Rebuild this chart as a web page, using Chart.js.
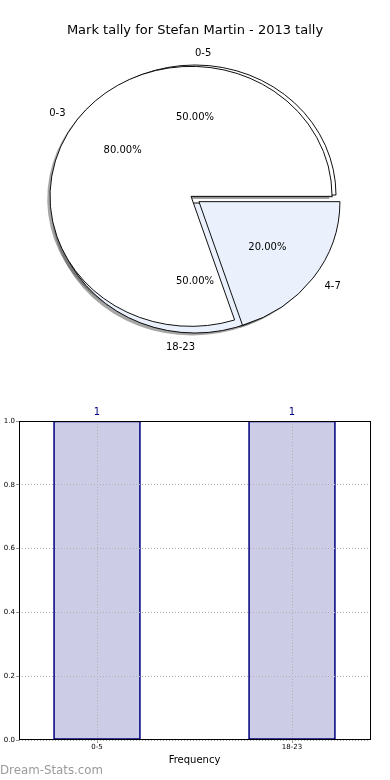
<!DOCTYPE html>
<html>
<head>
<meta charset="utf-8">
<script src="https://cdn.jsdelivr.net/npm/chart.js@4.4.0/dist/chart.umd.min.js"></script>
<style>
  body { margin: 0; background: #fff; font-family: "DejaVu Sans", sans-serif; }
  #wrap { position: relative; width: 390px; height: 780px; overflow: hidden; }
  canvas { position: absolute; left: 0; }
  #title { position: absolute; top: 21px; left: 0; width: 390px; text-align: center; font-size: 13px; line-height: 18px; color: #000; }
  #mark { position: absolute; left: 0; top: 763px; font-size: 11.8px; line-height: 14px; color: #9b9b9b; }
</style>
</head>
<body>
<div id="wrap">
  <canvas id="pies" width="390" height="398" style="top:0"></canvas>
  <canvas id="bars" width="390" height="380" style="top:400px"></canvas>
  <div id="title">Mark tally for Stefan Martin - 2013 tally</div>
  <div id="mark">Dream-Stats.com</div>
</div>
<script>
// front pie
const BINS_FRONT = ["0-3", "4-7"];
const COUNTS_FRONT = [4, 1];
// back pie
const BINS_BACK = ["0-5", "18-23"];
const COUNTS_BACK = [1, 1];
// bar chart
const BAR_CATS = ["0-5", "18-23"];
const BAR_VALS = [1, 1];
const Y_TICKS = [0, 0.2, 0.4, 0.6, 0.8, 1.0];

const WEDGE = "#ffffff";
const WEDGE_ALT = "#eaf0fc";
const SX = 141 / 130;          // pie is drawn a bit wider than tall
const EXPLODE = [4.5, 4];      // px, per dataset (front, back)

function midOf(arc) { return (arc.startAngle + arc.endAngle) / 2; }

// both pies share one chart, drawn as full overlapping pies
const mplPie = {
  id: "mplPie",
  beforeDatasetsDraw(chart) {
    const ctx = chart.ctx;
    const R = chart.getDatasetMeta(0).controller.outerRadius;
    const metas = [chart.getDatasetMeta(0), chart.getDatasetMeta(1)];
    metas.forEach(m => m.data.forEach(arc => { arc.innerRadius = 0; arc.outerRadius = R; }));
    const cx = metas[0].data[0].x, cy = metas[0].data[0].y;

    ctx.save();
    ctx.translate(cx, cy); ctx.scale(SX, 1); ctx.translate(-cx, -cy);

    // shadows first, under every wedge
    ctx.fillStyle = "rgba(77,77,77,0.5)";
    metas.forEach((m, d) => m.data.forEach(arc => {
      const a = midOf(arc);
      const x = arc.x + Math.cos(a) * EXPLODE[d] - 2.8 / SX;
      const y = arc.y + Math.sin(a) * EXPLODE[d] + 2.6;
      ctx.beginPath();
      ctx.moveTo(x, y);
      ctx.arc(x, y, arc.outerRadius, arc.startAngle, arc.endAngle);
      ctx.closePath();
      ctx.fill();
    }));

    // back pie, then front pie
    [metas[1], metas[0]].forEach(m => {
      const d = m.index;
      m.data.forEach(arc => {
        const a = midOf(arc);
        ctx.save();
        ctx.translate(Math.cos(a) * EXPLODE[d], Math.sin(a) * EXPLODE[d]);
        arc.draw(ctx);
        ctx.restore();
      });
    });
    ctx.restore();

    // labels on top of everything
    ctx.save();
    ctx.font = '10px "DejaVu Sans"';
    ctx.fillStyle = "#000";
    ctx.textBaseline = "middle";
    metas.forEach(m => {
      const ds = chart.data.datasets[m.index];
      const total = ds.data.reduce((s, v) => s + v, 0);
      m.data.forEach((arc, i) => {
        const a = midOf(arc);
        const c = Math.cos(a), s = Math.sin(a);
        const e = EXPLODE[m.index];
        const at = f => [arc.x + (c * e + c * arc.outerRadius * f) * SX, arc.y + s * e + s * arc.outerRadius * f];
        let [x, y] = at(1.1);
        ctx.textAlign = Math.abs(c) < 1e-6 ? (s < 0 ? "left" : "right") : (c > 0 ? "left" : "right");
        ctx.fillText(ds.names[i], x, y + 1);
        [x, y] = at(0.6);
        ctx.textAlign = "center";
        ctx.fillText((ds.data[i] / total * 100).toFixed(2) + "%", x, y);
      });
    });
    ctx.restore();
    return false;
  }
};

// drawn clockwise from east, so reverse the matplotlib order
new Chart(document.getElementById("pies"), {
  type: "pie",
  data: {
    datasets: [
      {
        names: [...BINS_FRONT].reverse(),
        data: [...COUNTS_FRONT].reverse(),
        backgroundColor: [WEDGE_ALT, WEDGE],
        borderColor: "#000",
        borderWidth: 0.9
      },
      {
        names: [...BINS_BACK].reverse(),
        data: [...COUNTS_BACK].reverse(),
        backgroundColor: [WEDGE_ALT, WEDGE],
        borderColor: "#000",
        borderWidth: 0.9
      }
    ]
  },
  options: {
    responsive: false,
    animation: false,
    events: [],
    rotation: 90,
    radius: 130,
    layout: { padding: 0 },
    plugins: { legend: { display: false }, tooltip: { enabled: false } }
  },
  plugins: [mplPie]
});

const barExtras = {
  id: "barExtras",
  afterDraw(chart) {
    const { ctx, chartArea: a } = chart;
    ctx.save();
    ctx.strokeStyle = "#000";
    ctx.lineWidth = 1;
    ctx.strokeRect(a.left + 0.5, a.top + 0.5, a.right - a.left, a.bottom - a.top - 1);
    ctx.font = '10px "DejaVu Sans"';
    ctx.fillStyle = "#000080";
    ctx.textAlign = "center";
    ctx.textBaseline = "middle";
    chart.getDatasetMeta(0).data.forEach((bar, i) => {
      ctx.fillText(String(BAR_VALS[i]), bar.x, bar.y - 9);
    });
    ctx.restore();
  }
};

const gridStyle = { color: "#b0b0b0", z: 1, offset: false, tickLength: 3, tickColor: "#999", tickBorderDash: [], borderDash: [1, 2] };

new Chart(document.getElementById("bars"), {
  type: "bar",
  data: {
    datasets: [{
      data: BAR_CATS.map((c, i) => ({ x: i, y: BAR_VALS[i] })),
      backgroundColor: "rgba(0,0,128,0.2)",
      borderColor: "#000080",
      borderWidth: 1,
      borderSkipped: false,
      barThickness: 87
    }]
  },
  options: {
    responsive: false,
    animation: false,
    events: [],
    layout: { padding: { top: 21, right: 20, left: 0, bottom: 0 } },
    plugins: { legend: { display: false }, tooltip: { enabled: false } },
    scales: {
      x: {
        type: "linear",
        offset: false,
        min: -0.4,
        max: 1.4,
        afterBuildTicks: s => { s.ticks = BAR_CATS.map((c, i) => ({ value: i })); },
        afterFit: s => { s.height = 40; },
        ticks: { callback: v => BAR_CATS[v], font: { family: "DejaVu Sans", size: 7 }, color: "#000", padding: 0, maxRotation: 0, autoSkip: false },
        grid: gridStyle,
        border: { display: false, dash: [1, 2] },
        title: { display: true, text: "Frequency", font: { family: "DejaVu Sans", size: 10 }, color: "#000", padding: { top: 0, bottom: 14 } }
      },
      y: {
        min: 0,
        max: 1,
        afterBuildTicks: s => { s.ticks = Y_TICKS.map(v => ({ value: v })); },
        afterFit: s => { s.width = 19; },
        ticks: { callback: v => v.toFixed(1), font: { family: "DejaVu Sans", size: 7 }, color: "#000", padding: 1 },
        grid: gridStyle,
        border: { display: false, dash: [1, 2] }
      }
    }
  },
  plugins: [barExtras]
});
</script>
</body>
</html>
